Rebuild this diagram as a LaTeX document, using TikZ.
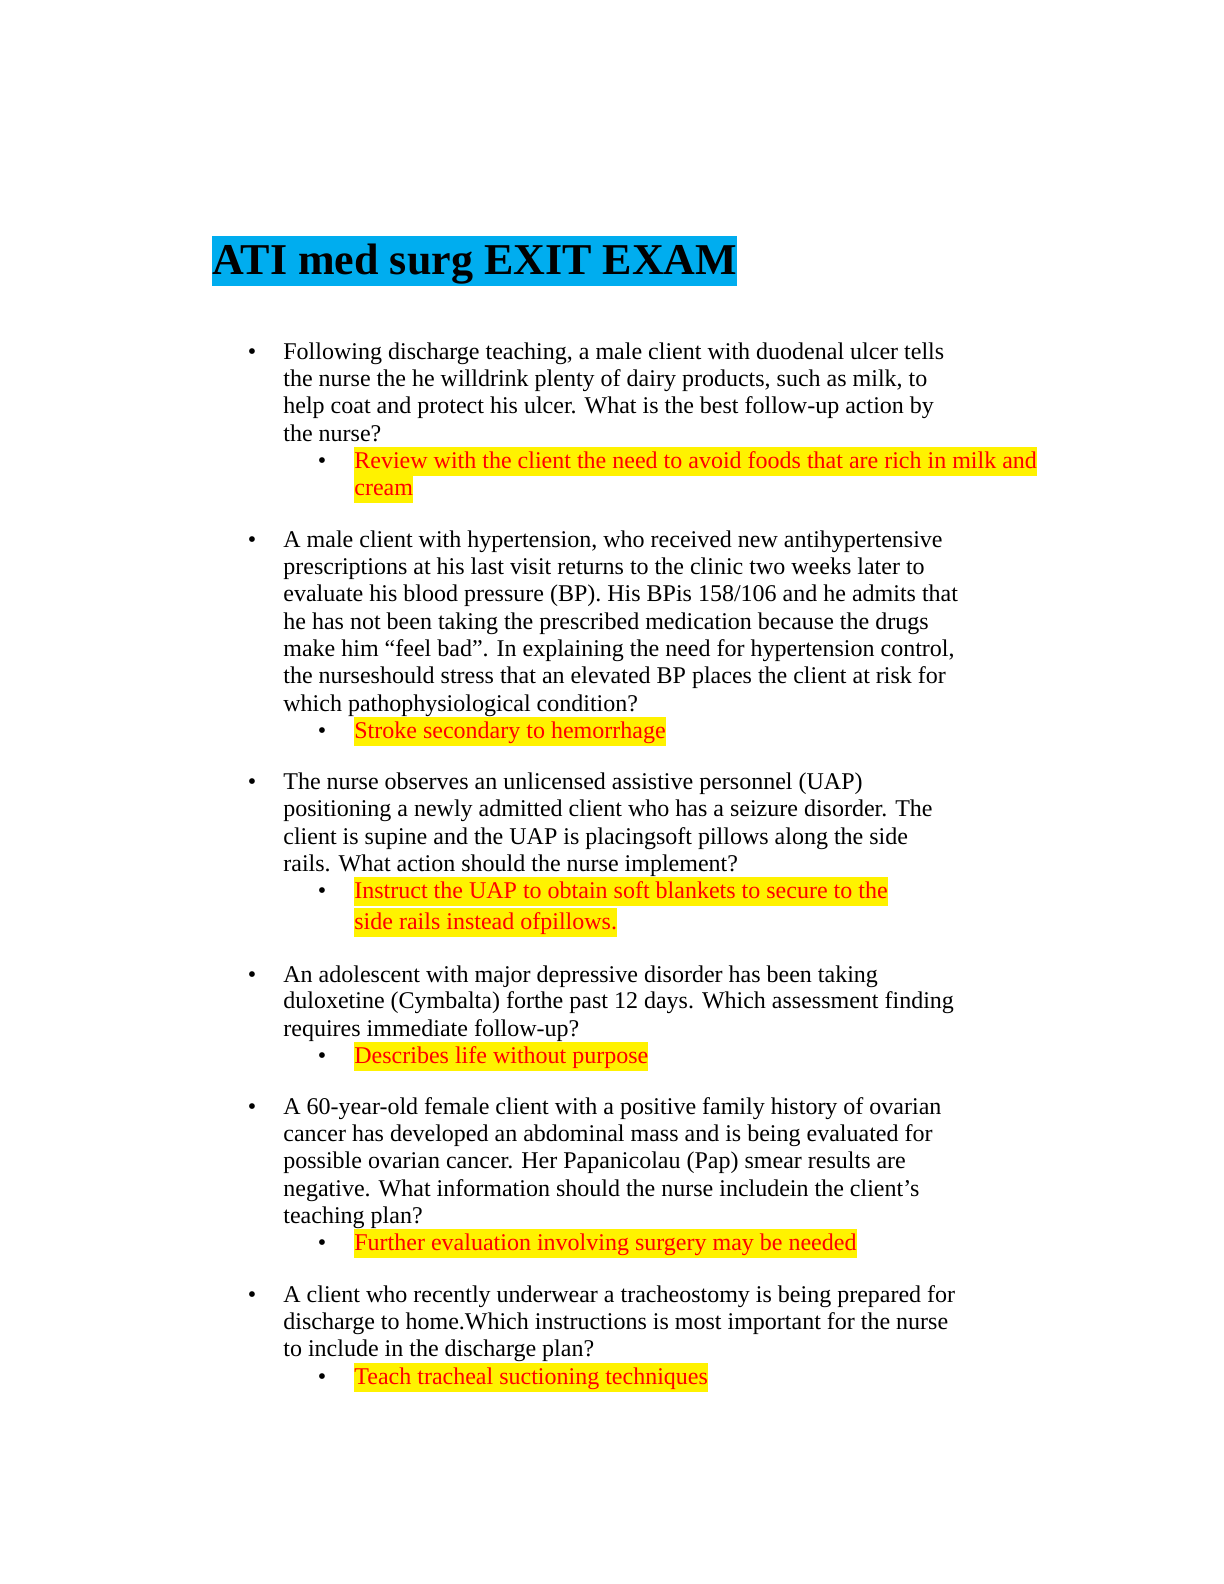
\documentclass[tikz,border=0pt]{standalone}
\usepackage{fontspec}
\setmainfont{Liberation Serif}
\begin{document}
\begin{tikzpicture}[x=0.5pt,y=-0.5pt,
  txt/.style={anchor=base west,inner sep=0pt,font=\fontsize{12}{14}\selectfont},
  ans/.style={txt,fill=yellow,text=red,inner ysep=1.5pt,text height=9pt,text depth=2.5pt},
  bul/.style={anchor=base,inner sep=0pt,font=\fontsize{12}{14}\selectfont}]
\useasboundingbox (0,0) rectangle (1224,1584);
\node[anchor=base west,fill=cyan,inner xsep=0pt,inner ysep=0pt,text height=19pt,text depth=6pt,font=\fontsize{22}{26}\bfseries] (title) at (212,274) {ATI med surg EXIT EXAM};
% Q1
\node[bul] (b1) at (252,359) {•};
\node[txt] (q1a) at (283,359) {Following discharge teaching, a male client with duodenal ulcer tells};
\node[txt] (q1b) at (283,386) {the nurse the he willdrink plenty of dairy products, such as milk, to};
\node[txt] (q1c) at (283,413) {help coat and protect his ulcer. What is the best follow-up action by};
\node[txt] (q1d) at (283,441) {the nurse?};
\node[bul] (s1) at (322,468) {•};
\node[ans] (a1a) at (354,468) {Review with the client the need to avoid foods that are rich in milk and};
\node[ans] (a1b) at (354,495) {cream};
% Q2
\node[bul] (b2) at (252,547) {•};
\node[txt] (q2a) at (283,547) {A male client with hypertension, who received new antihypertensive};
\node[txt] (q2b) at (283,574) {prescriptions at his last visit returns to the clinic two weeks later to};
\node[txt] (q2c) at (283,601) {evaluate his blood pressure (BP). His BPis 158/106 and he admits that};
\node[txt] (q2d) at (283,629) {he has not been taking the prescribed medication because the drugs};
\node[txt] (q2e) at (283,656) {make him “feel bad”. In explaining the need for hypertension control,};
\node[txt] (q2f) at (283,683) {the nurseshould stress that an elevated BP places the client at risk for};
\node[txt] (q2g) at (283,711) {which pathophysiological condition?};
\node[bul] (s2) at (322,738) {•};
\node[ans] (a2) at (354,738) {Stroke secondary to hemorrhage};
% Q3
\node[bul] (b3) at (252,789) {•};
\node[txt] (q3a) at (283,789) {The nurse observes an unlicensed assistive personnel (UAP)};
\node[txt] (q3b) at (283,816) {positioning a newly admitted client who has a seizure disorder. The};
\node[txt] (q3c) at (283,844) {client is supine and the UAP is placingsoft pillows along the side};
\node[txt] (q3d) at (283,871) {rails. What action should the nurse implement?};
\node[bul] (s3) at (322,898) {•};
\node[ans] (a3a) at (354,898) {Instruct the UAP to obtain soft blankets to secure to the};
\node[ans] (a3b) at (354,929) {side rails instead ofpillows.};
% Q4
\node[bul] (b4) at (252,982) {•};
\node[txt] (q4a) at (283,982) {An adolescent with major depressive disorder has been taking};
\node[txt] (q4b) at (283,1008) {duloxetine (Cymbalta) forthe past 12 days. Which assessment finding};
\node[txt] (q4c) at (283,1036) {requires immediate follow-up?};
\node[bul] (s4) at (322,1063) {•};
\node[ans] (a4) at (354,1063) {Describes life without purpose};
% Q5
\node[bul] (b5) at (252,1114) {•};
\node[txt] (q5a) at (283,1114) {A 60-year-old female client with a positive family history of ovarian};
\node[txt] (q5b) at (283,1141) {cancer has developed an abdominal mass and is being evaluated for};
\node[txt] (q5c) at (283,1168) {possible ovarian cancer. Her Papanicolau (Pap) smear results are};
\node[txt] (q5d) at (283,1196) {negative. What information should the nurse includein the client’s};
\node[txt] (q5e) at (283,1223) {teaching plan?};
\node[bul] (s5) at (322,1250) {•};
\node[ans] (a5) at (354,1250) {Further evaluation involving surgery may be needed};
% Q6
\node[bul] (b6) at (252,1302) {•};
\node[txt] (q6a) at (283,1302) {A client who recently underwear a tracheostomy is being prepared for};
\node[txt] (q6b) at (283,1329) {discharge to home.Which instructions is most important for the nurse};
\node[txt] (q6c) at (283,1356) {to include in the discharge plan?};
\node[bul] (s6) at (322,1384) {•};
\node[ans] (a6) at (354,1384) {Teach tracheal suctioning techniques};
\end{tikzpicture}
\end{document}
